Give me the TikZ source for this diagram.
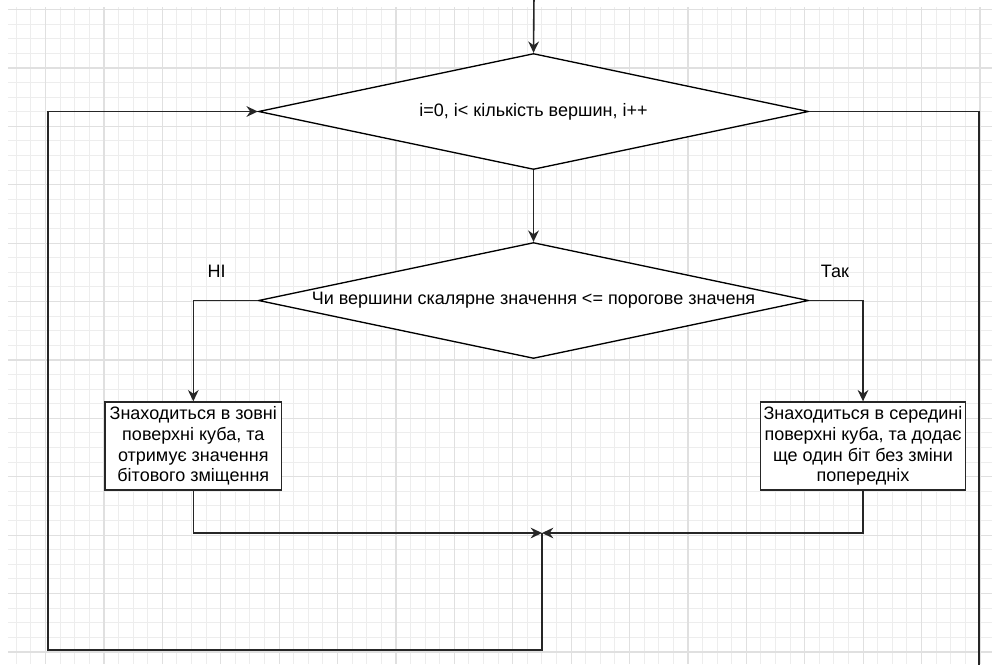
\documentclass[tikz,border=0pt]{standalone}
\usepackage{fontspec}
\setmainfont{Liberation Sans}
\usetikzlibrary{arrows.meta,shapes.geometric}

\tikzset{
  gridminor/.style={draw=black!7, line width=0.75pt},
  gridmajor/.style={draw=black!12, line width=0.9pt},
  decision/.style={diamond, draw=black, fill=white, line width=1pt, aspect=5,
    inner sep=0pt, minimum width=412.5pt, minimum height=87pt},
  process/.style={rectangle, draw=black!85, fill=white, line width=1pt,
    inner sep=0pt, align=center, minimum height=66pt},
  conn/.style={draw=black!85, line width=1.2pt,
    -{Stealth[length=8.5pt, width=8pt, inset=2.8pt]}},
  plainconn/.style={draw=black!85, line width=1.2pt},
  lbl/.style={inner sep=0pt},
}

\begin{document}
\begin{tikzpicture}[x=0.75pt, y=-0.75pt,
  every node/.style={font=\fontsize{13.5pt}{15.6pt}\selectfont}]
\useasboundingbox (0,0) rectangle (992,664);

% squared paper
\begin{scope}
  \clip (8,7) rectangle (992,664);
  \foreach \k in {-2,...,64}
    \draw[gridminor] ({45.5+14.6*\k},7) -- ({45.5+14.6*\k},664);
  \foreach \k in {0,...,44}
    \draw[gridminor] (8,{9.5+14.6*\k}) -- (992,{9.5+14.6*\k});
  \foreach \k in {0,...,16}
    \draw[gridmajor] ({45.5+58.4*\k},7) -- ({45.5+58.4*\k},664);
  \foreach \k in {0,...,11}
    \draw[gridmajor] (8,{9.5+58.4*\k}) -- (992,{9.5+58.4*\k});
\end{scope}

% loop header and condition
\node[decision] (d1) at (533.5,111.5) {i=0, i< кількість вершин, i++};
\node[decision] (d2) at (533.5,300.5) {Чи вершини скалярне значення <= порогове значеня};

% branches
\node[process, minimum width=132.5pt] (b1) at (193.3,446)
  {Знаходиться в зовні\\поверхні куба, та\\отримує значення\\бітового зміщення};
\node[process, minimum width=153.5pt] (b2) at (863,446)
  {Знаходиться в середині\\поверхні куба, та додає\\ще один біт без зміни\\попередніх};

\node[lbl] (no) at (216.7,271.7) {НІ};
\node[lbl] (yes) at (835,271.7) {Так};

% helper points
\coordinate (top) at (534,-5);
\coordinate (m) at (542,533);
\coordinate (lb) at (48,650);
\coordinate (rb) at (979,670);

% connectors
\draw[conn] (top) -- (d1.north);
\draw[conn] (d1.south) -- (d2.north);
\draw[conn] (d2.west) -| (b1.north);
\draw[conn] (d2.east) -| (b2.north);
\draw[conn] (b1.south) |- (m);
\draw[conn] (b2.south) |- (m);
\draw[conn] (m) |- (lb) |- (d1.west);
\draw[plainconn] (d1.east) -| (rb);
\end{tikzpicture}
\end{document}
